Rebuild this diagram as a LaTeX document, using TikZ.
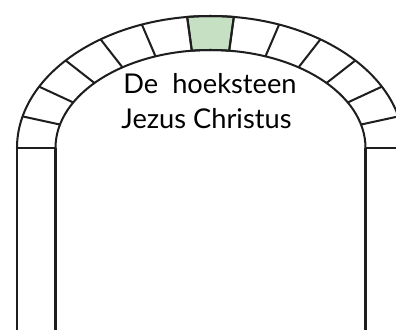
\documentclass[tikz,border=0pt]{standalone}
\usepackage{fontspec}
\setmainfont{Lato}
\usetikzlibrary{calc}
\definecolor{KeyGreen}{HTML}{C6E0C4}
\definecolor{LineGray}{HTML}{1E1E1E}

\begin{document}
\begin{tikzpicture}[
  x=0.02cm, y=0.02cm,
  stone/.style={draw=LineGray, line width=1.15pt, line join=round},
  keystone/.style={stone, fill=KeyGreen},
  caption/.style={font=\fontsize{15.5}{18}\selectfont, text=black, inner sep=0pt, anchor=base},
]
  \clip (0,0) rectangle (396,329);
  \fill[white] (0,0) rectangle (396,329);
  % arch centre and radii
  \coordinate (c) at (210.5,181);
  \def\ax{193.5} \def\ay{132} \def\bx{155} \def\by{98}
  \pgfmathsetmacro\dt{180/13}

  % keystone
  \filldraw[keystone] ($(c)+({\ax*cos(90+\dt/2)},{\ay*sin(90+\dt/2)})$)
    arc[start angle=90+\dt/2, end angle=90-\dt/2, x radius=\ax, y radius=\ay]
    -- ($(c)+({\bx*cos(90-\dt/2)},{\by*sin(90-\dt/2)})$)
    arc[start angle=90-\dt/2, end angle=90+\dt/2, x radius=\bx, y radius=\by]
    -- cycle;

  % outer and inner curves
  \draw[stone] ($(c)+(-\ax,0)$) arc[start angle=180, end angle=0, x radius=\ax, y radius=\ay];
  \draw[stone] ($(c)+(-\bx,0)$) arc[start angle=180, end angle=0, x radius=\bx, y radius=\by];

  % joints between the stones
  \foreach \k in {1,...,12} {
    \pgfmathsetmacro\t{180-\k*\dt}
    \draw[stone] ($(c)+({\ax*cos(\t)},{\ay*sin(\t)})$) -- ($(c)+({\bx*cos(\t)},{\by*sin(\t)})$);
  }

  % piers
  \draw[stone] ($(c)+(-\ax,0)$) -- ($(c)+(-\bx,0)$);
  \draw[stone] ($(c)+(\bx,0)$) -- ($(c)+(\ax,0)$);
  \draw[stone] ($(c)+(-\ax,0)$) -- ++(0,-190);
  \draw[stone] ($(c)+(-\bx,0)$) -- ++(0,-190);
  \draw[stone] ($(c)+(\bx,0)$) -- ++(0,-190);
  \draw[stone] ($(c)+(\ax,0)$) -- ++(0,-190);

  \node[caption] (line1) at (210,236) {De\ \ hoeksteen};
  \node[caption] (line2) at (206.5,201) {Jezus Christus};
\end{tikzpicture}
\end{document}
